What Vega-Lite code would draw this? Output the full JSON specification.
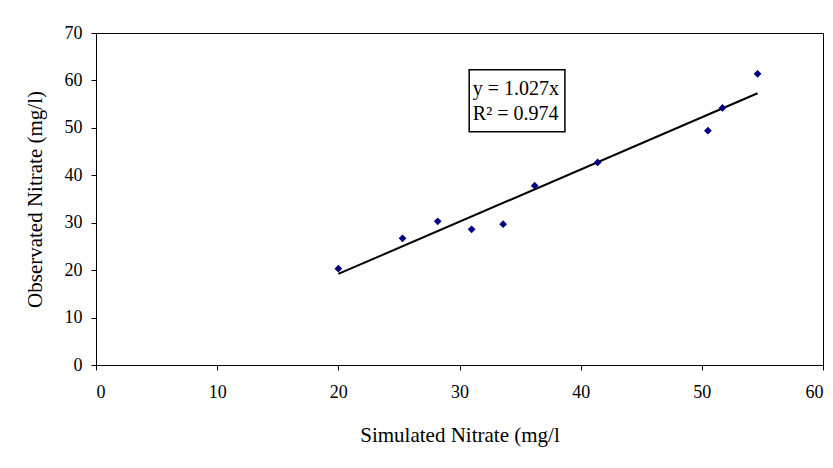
{
  "$schema": "https://vega.github.io/schema/vega-lite/v6.json",
  "autosize": "none",
  "width": 727,
  "height": 332,
  "padding": {"left": 96, "top": 33, "right": 10, "bottom": 103},
  "background": "white",
  "config": {
    "view": {"stroke": "#000000", "strokeWidth": 1},
    "font": "Liberation Serif",
    "axis": {
      "grid": false,
      "domainColor": "#000000",
      "tickColor": "#000000",
      "tickSize": 5,
      "labelColor": "#000000",
      "titleColor": "#000000",
      "labelFont": "Liberation Serif",
      "titleFont": "Liberation Serif",
      "labelFontSize": 18,
      "titleFontSize": 21,
      "titleFontWeight": "normal"
    }
  },
  "datasets": {
    "points": [
      {"sim": 20.0, "obs": 20.3},
      {"sim": 25.3, "obs": 26.7},
      {"sim": 28.2, "obs": 30.3},
      {"sim": 31.0, "obs": 28.6},
      {"sim": 33.6, "obs": 29.7},
      {"sim": 36.2, "obs": 37.8},
      {"sim": 41.4, "obs": 42.7},
      {"sim": 50.5, "obs": 49.4},
      {"sim": 51.7, "obs": 54.2},
      {"sim": 54.6, "obs": 61.4}
    ],
    "trend": [
      {"sim": 20.0, "obs": 19.2},
      {"sim": 54.6, "obs": 57.3}
    ]
  },
  "layer": [
    {
      "data": {"name": "trend"},
      "mark": {"type": "line", "color": "#000000", "strokeWidth": 2},
      "encoding": {
        "x": {"field": "sim", "type": "quantitative", "scale": {"domain": [0, 60], "nice": false},
              "axis": {"values": [0, 10, 20, 30, 40, 50, 60], "title": "Simulated Nitrate (mg/l", "labelPadding": 13, "titlePadding": 23}},
        "y": {"field": "obs", "type": "quantitative", "scale": {"domain": [0, 70], "nice": false},
              "axis": {"values": [0, 10, 20, 30, 40, 50, 60, 70], "title": "Observated Nitrate (mg/l)", "labelPadding": 9, "titlePadding": 19}}
      }
    },
    {
      "data": {"name": "points"},
      "mark": {"type": "point", "shape": "diamond", "filled": true, "color": "#000080", "size": 60, "opacity": 1},
      "encoding": {
        "x": {"field": "sim", "type": "quantitative"},
        "y": {"field": "obs", "type": "quantitative"}
      }
    },
    {
      "data": {"values": [{}]},
      "mark": {"type": "rect", "fill": null, "stroke": "#000000", "strokeWidth": 1.5},
      "encoding": {
        "x": {"datum": 30.8, "type": "quantitative"},
        "x2": {"datum": 38.7},
        "y": {"datum": 62.25, "type": "quantitative"},
        "y2": {"datum": 49.2}
      }
    },
    {
      "data": {"values": [{"label": "y = 1.027x", "ly": 58.2}, {"label": "R² = 0.974", "ly": 53.0}]},
      "mark": {"type": "text", "align": "left", "baseline": "middle", "font": "Liberation Serif", "fontSize": 20, "color": "#000000"},
      "encoding": {
        "x": {"datum": 31.1, "type": "quantitative"},
        "y": {"field": "ly", "type": "quantitative"},
        "text": {"field": "label"}
      }
    }
  ]
}
